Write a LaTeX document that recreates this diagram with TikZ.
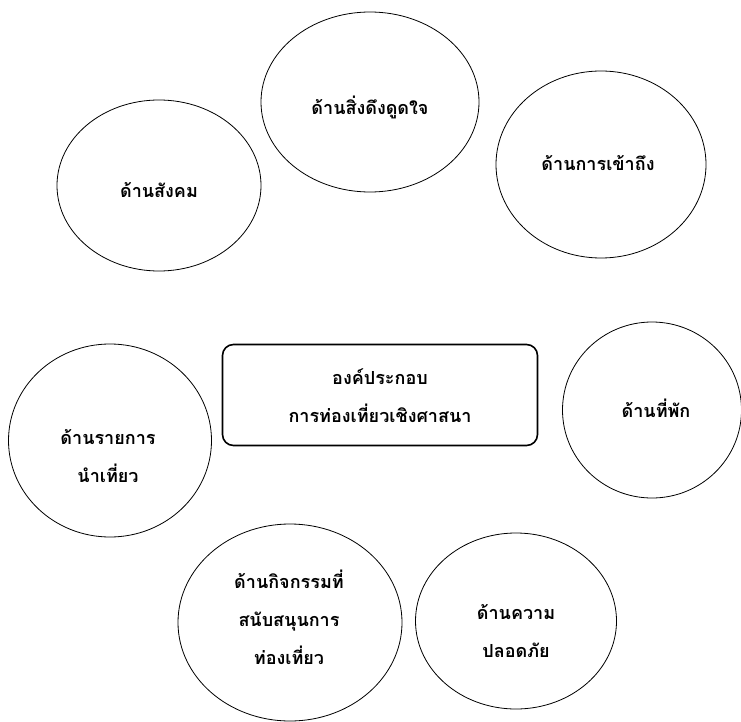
\documentclass[tikz,border=0pt]{standalone}
\usepackage{fontspec}
\newfontfamily\thaifont[Script=Thai]{Loma}
\usetikzlibrary{calc}

\begin{document}
\begin{tikzpicture}[x=1pt,y=-1pt,
  oval/.style={line width=0.8pt},
  mainbox/.style={line width=1.6pt,rounded corners=11pt},
  lbl/.style={font=\thaifont\bfseries\fontsize{18}{38}\selectfont,align=center,inner sep=0pt}]
\useasboundingbox (0,0) rectangle (741,722);

\coordinate (Social) at (159,185.5);
\coordinate (Attract) at (370,102);
\coordinate (Access) at (601,164.5);
\coordinate (Stay) at (652,410);
\coordinate (Tour) at (110,440.5);
\coordinate (Activity) at (290,622.5);
\coordinate (Safety) at (516,621);

\draw[oval] (Social) ellipse (102 and 85.5);
\draw[oval] (Attract) ellipse (109 and 90);
\draw[oval] (Access) ellipse (105 and 93.5);
\draw[oval] (Stay) ellipse (89.5 and 88);
\draw[oval] (Tour) ellipse (101.5 and 96.5);
\draw[oval] (Activity) ellipse (112 and 98.5);
\draw[oval] (Safety) ellipse (100.5 and 88);

\draw[mainbox] (222.5,344.5) rectangle (537.5,445.5);

\node[lbl] (lCore) at (380,396) {องค์ประกอบ\\การท่องเที่ยวเชิงศาสนา};

\node[lbl] (lSocial) at (159,190) {ด้านสังคม};
\node[lbl] (lAttract) at (370,107) {ด้านสิ่งดึงดูดใจ};
\node[lbl] (lAccess) at (598,163) {ด้านการเข้าถึง};
\node[lbl] (lStay) at (656,408) {ด้านที่พัก};
\node[lbl] (lTour) at (108,456) {ด้านรายการ\\นำเที่ยว};
\node[lbl] (lActivity) at (289,617) {ด้านกิจกรรมที่\\สนับสนุนการ\\ท่องเที่ยว};
\node[lbl] (lSafety) at (516,631) {ด้านความ\\ปลอดภัย};

\end{tikzpicture}
\end{document}
